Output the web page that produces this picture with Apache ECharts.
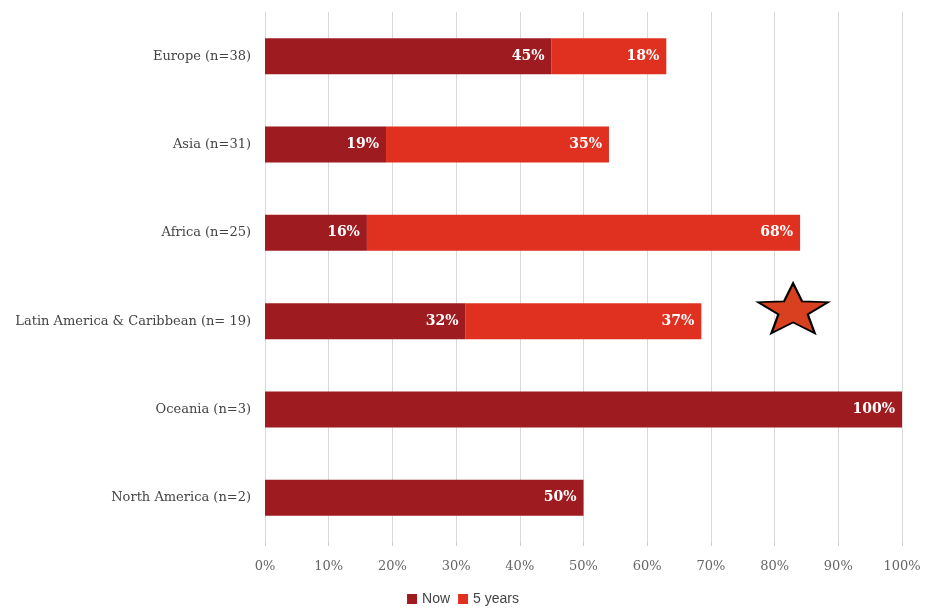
<!DOCTYPE html>
<html><head><meta charset="utf-8">
<script src="https://cdn.jsdelivr.net/npm/echarts@6/dist/echarts.min.js"></script>
<style>html,body{margin:0;padding:0;background:#fff}#c{width:926px;height:613px}</style>
</head><body><div id="c"></div>
<script>
const categories = ['Europe (n=38)', 'Asia (n=31)', 'Africa (n=25)', 'Latin America & Caribbean (n= 19)', 'Oceania (n=3)', 'North America (n=2)'];
const nowValues = [45, 19, 16, 31.5, 100, 50];
const nowLabels = ['45%', '19%', '16%', '32%', '100%', '50%'];
const fiveYearValues = [18, 35, 68, 37, null, null];
const fiveYearLabels = ['18%', '35%', '68%', '37%', '', ''];
const starPoint = [82.9, 'Latin America & Caribbean (n= 19)'];

const serif = 'DejaVu Serif';
const chart = echarts.init(document.getElementById('c'));
const starPath = 'path://M50,0 L62.35,33.01 L97.55,34.55 L69.97,56.49 L79.39,90.45 L50,71 L20.61,90.45 L30.03,56.49 L2.45,34.55 L37.65,33.01 Z';
chart.setOption({
  animation: false,
  grid: { left: 265, right: 24, top: 12, bottom: 71, containLabel: false },
  legend: {
    bottom: 2, left: 'center', itemWidth: 10, itemHeight: 10, itemGap: 8, icon: 'rect',
    textStyle: { fontFamily: 'Liberation Sans', fontSize: 14, color: '#444' },
    data: ['Now', '5 years']
  },
  xAxis: {
    type: 'value', min: 0, max: 100, interval: 10,
    axisLabel: { formatter: '{value}%', fontFamily: serif, fontSize: 13, color: '#666', margin: 18 },
    axisLine: { show: false },
    axisTick: { show: true, length: 4, lineStyle: { color: '#ccc' } },
    splitLine: { show: true, lineStyle: { color: '#d9d9d9' } }
  },
  yAxis: {
    type: 'category', data: categories, inverse: true,
    axisLine: { show: true, lineStyle: { color: '#d9d9d9' } },
    axisTick: { show: false },
    axisLabel: { fontFamily: serif, fontSize: 13, color: '#444', margin: 14 }
  },
  series: [
    {
      name: 'Now', type: 'bar', stack: 's', barWidth: 36,
      itemStyle: { color: '#9e1b1f' },
      data: nowValues,
      label: { show: true, position: 'insideRight', offset: [-2, 0], formatter: p => nowLabels[p.dataIndex], color: '#fff', fontFamily: serif, fontWeight: 'bold', fontSize: 14 }
    },
    {
      name: '5 years', type: 'bar', stack: 's', barWidth: 36,
      itemStyle: { color: '#e0301f' },
      data: fiveYearValues,
      label: { show: true, position: 'insideRight', offset: [-2, 0], formatter: p => fiveYearLabels[p.dataIndex], color: '#fff', fontFamily: serif, fontWeight: 'bold', fontSize: 14 }
    },
    {
      name: 'star', type: 'scatter', data: [starPoint],
      symbol: starPath, symbolSize: [70, 50], symbolOffset: [0, -13],
      itemStyle: { color: '#d8401f', borderColor: '#000', borderWidth: 2, opacity: 1 },
      silent: true, z: 5
    }
  ]
});
</script></body></html>
